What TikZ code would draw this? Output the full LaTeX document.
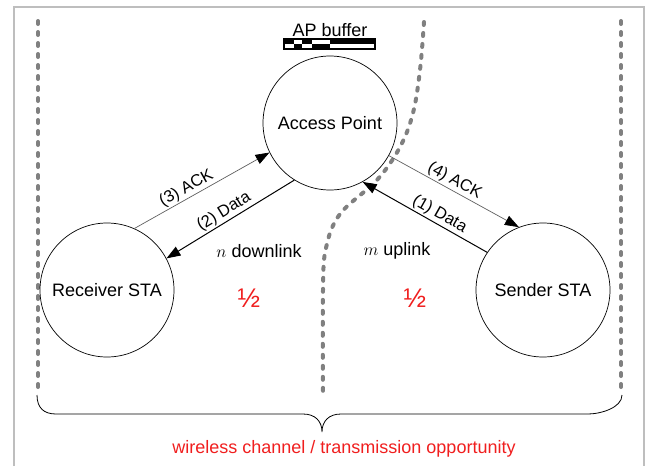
\documentclass[tikz,border=0pt]{standalone}
\usepackage{fontspec}
\setmainfont{Liberation Sans}
\usetikzlibrary{arrows.meta}
\definecolor{chanred}{RGB}{240,30,30}
\definecolor{dashgray}{RGB}{128,128,128}
\definecolor{framegray}{RGB}{190,190,190}
\definecolor{ackgray}{RGB}{95,95,95}

\begin{document}
\begin{tikzpicture}[x = 1pt, y = -1pt,
        station/.style = {draw, circle, minimum size = 134pt, inner sep = 0pt, line width = 0.7pt, font = \fontsize{18}{21}\selectfont},
        msg/.style = {-{Triangle[length = 14pt, width = 10pt, color = black]}, line width = 1pt},
        ack/.style = {msg, draw = ackgray, line width = 0.7pt},
        msglabel/.style = {sloped, above, inner sep = 1.5pt, font = \fontsize{16.5}{19}\selectfont},
        channel/.style = {dashgray, line width = 4pt, line cap = round, dash pattern = on 3pt off 8pt}]
    \useasboundingbox (0, 0) rectangle (647, 466);
    \draw [framegray, line width = 2pt] (14, 466) -- (14, 7) -- (644, 7) -- (644, 466);

    % channel borders
    \draw [channel] (38, 21) -- (38, 393);
    \draw [channel] (621, 21) -- (621, 393);
    \draw [channel] plot [smooth, tension = 0.6] coordinates {(424, 22) (420, 70) (413, 113) (400, 147) (377, 180) (340, 214) (326, 248) (323, 290) (323, 393)};

    \node [station] (ap) at (330, 123) {Access Point};
    \node [station] (rx) at (107, 290) {Receiver STA};
    \node [station] (tx) at (543, 290) {Sender STA};

    % AP buffer
    \node [font = \fontsize{18}{21}\selectfont] (buf) at (330, 30) {AP buffer};
    \foreach \xa/\xb/\top in {284/294/black, 294/302/white, 302/312/black, 312/330/white, 330/375/black} {
        \fill [\top] (\xa, 39) rectangle (\xb, 44);
    }
    \foreach \xa/\xb/\bot in {284/294/white, 294/302/black, 302/312/white, 312/330/black, 330/375/white} {
        \fill [\bot] (\xa, 44) rectangle (\xb, 49);
    }
    \draw [line width = 1.2pt] (284, 39) rectangle (375, 49);

    \draw [ack] (rx.66) -- node [msglabel, pos = 0.42] (ack3) {(3) ACK} (ap.206);
    \draw [msg] (ap.238) -- node [msglabel, pos = 0.51] (data2) {(2) Data} (rx.28);
    \draw [ack] (ap.331) -- node [msglabel, pos = 0.47] (ack4) {(4) ACK} (tx.111);
    \draw [msg] (tx.146) -- node [msglabel, pos = 0.42] (data1) {(1) Data} (ap.299);

    \node [font = \fontsize{18}{21}\selectfont] (down) at (259, 251) {$n$ downlink};
    \node [font = \fontsize{18}{21}\selectfont] (up) at (397, 251) {$m$ uplink};
    \node [chanred, font = \fontsize{27}{30}\selectfont] (half1) at (249, 298) {½};
    \node [chanred, font = \fontsize{27}{30}\selectfont] (half2) at (415, 298) {½};

    % brace under the channel
    \draw [line width = 0.8pt] (37, 395) .. controls (37, 408) and (44, 414) .. (56, 414) -- (303, 414)
        .. controls (315, 414) and (322, 421) .. (322, 432)
        .. controls (322, 421) and (329, 414) .. (341, 414) -- (588, 414)
        .. controls (600, 414) and (622, 408) .. (622, 395);
    \node [chanred, font = \fontsize{18}{21}\selectfont] (chan) at (344, 449) {wireless channel / transmission opportunity};
\end{tikzpicture}
\end{document}
